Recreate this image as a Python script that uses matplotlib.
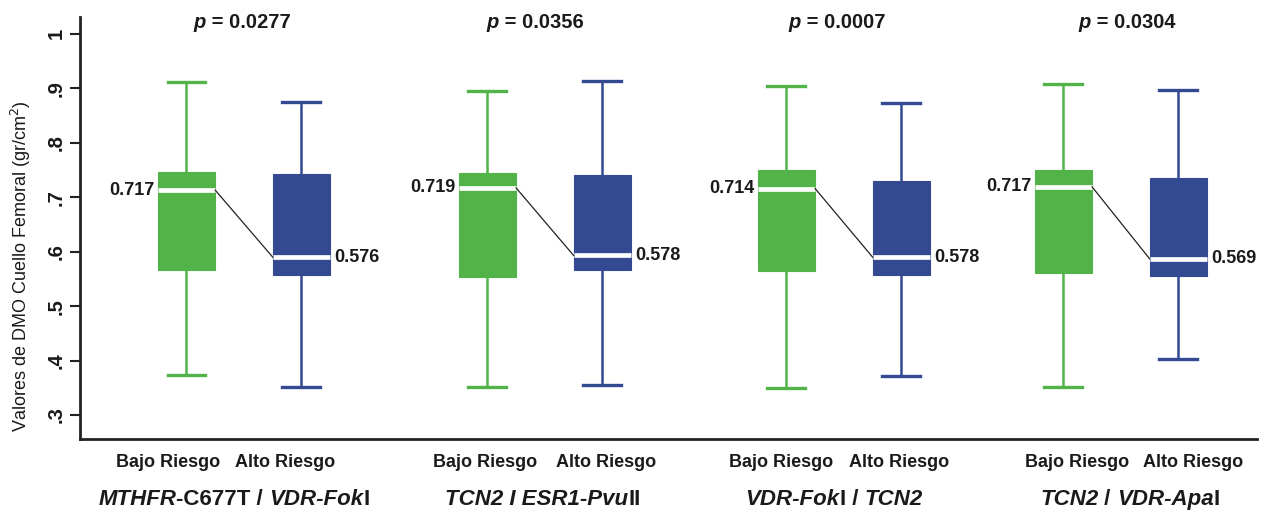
import matplotlib
matplotlib.use("Agg")
import matplotlib.pyplot as plt
from matplotlib.offsetbox import TextArea, HPacker, AnnotationBbox

plt.rcParams['font.family'] = ['Liberation Sans', 'DejaVu Sans']

# ---------------- data ----------------
groups = ["MTHFR-C677T / VDR-FokI", "TCN2 I ESR1-PvuII", "VDR-FokI / TCN2", "TCN2 / VDR-ApaI"]
categories = ["Bajo Riesgo", "Alto Riesgo"]
p_values = ["0.0277", "0.0356", "0.0007", "0.0304"]

# Bajo Riesgo
bajo_whislo = [0.373, 0.351, 0.350, 0.351]
bajo_q1 = [0.566, 0.554, 0.565, 0.561]
bajo_med = [0.713, 0.717, 0.716, 0.719]
bajo_q3 = [0.746, 0.745, 0.750, 0.750]
bajo_whishi = [0.911, 0.895, 0.904, 0.908]
bajo_labels = ["0.717", "0.719", "0.714", "0.717"]

# Alto Riesgo
alto_whislo = [0.351, 0.356, 0.372, 0.403]
alto_q1 = [0.557, 0.566, 0.557, 0.555]
alto_med = [0.590, 0.593, 0.590, 0.587]
alto_q3 = [0.742, 0.740, 0.730, 0.735]
alto_whishi = [0.874, 0.913, 0.873, 0.897]
alto_labels = ["0.576", "0.578", "0.578", "0.569"]

yticks = [0.3, 0.4, 0.5, 0.6, 0.7, 0.8, 0.9, 1.0]
ytick_labels = [".3", ".4", ".5", ".6", ".7", ".8", ".9", "1"]

# ---------------- layout / style ----------------
GREEN = "#52B448"
BLUE = "#334A93"
group_start = [0.0, 2.617, 5.217, 7.626]      # x of each group's first box (axis units)
box_w = 0.5
PX = 1 / 115.0                                  # one pixel in x axis units
cat_off = [(-18, -16), (-2, 4), (-5, -2), (14, 15)]   # category label offsets (px)
grp_off = [-10, -2, -10, 9]                      # group label offsets (px)
p_off = [-2, -10, -7, 6]                         # p-value offsets (px)

fig = plt.figure(figsize=(12.76, 5.15), dpi=100)
W, H = 1276, 515
left, right, top, bottom = 80, 1257, 17, 439
ax = fig.add_axes([left / W, 1 - bottom / H, (right - left) / W, (bottom - top) / H])

pos_bajo = [s for s in group_start]
pos_alto = [s + 1 for s in group_start]

def stats(lo, q1, med, q3, hi):
    return [dict(whislo=a, q1=b, med=c, q3=d, whishi=e, fliers=[])
            for a, b, c, d, e in zip(lo, q1, med, q3, hi)]

for st, pos, col in [
    (stats(bajo_whislo, bajo_q1, bajo_med, bajo_q3, bajo_whishi), pos_bajo, GREEN),
    (stats(alto_whislo, alto_q1, alto_med, alto_q3, alto_whishi), pos_alto, BLUE),
]:
    ax.bxp(st, positions=pos, widths=box_w, patch_artist=True, showfliers=False,
           capwidths=0.33,
           boxprops=dict(facecolor=col, edgecolor=col, linewidth=0.8),
           medianprops=dict(color="white", linewidth=3.4, solid_capstyle="butt"),
           whiskerprops=dict(color=col, linewidth=1.8),
           capprops=dict(color=col, linewidth=2.4),
           manage_ticks=False, zorder=2)

for g in range(len(groups)):
    xb, xa = pos_bajo[g], pos_alto[g]
    ax.plot([xb + box_w / 2, xa - box_w / 2], [bajo_med[g], alto_med[g]],
            color="#222222", linewidth=0.9, zorder=3)
    ax.annotate(bajo_labels[g], (xb - box_w / 2, bajo_med[g]), xytext=(-2, 0),
                textcoords="offset points", ha="right", va="center",
                fontsize=13, fontweight="bold", color="#1a1a1a")
    ax.annotate(alto_labels[g], (xa + box_w / 2, alto_med[g]), xytext=(3, 0),
                textcoords="offset points", ha="left", va="center",
                fontsize=13, fontweight="bold", color="#1a1a1a", annotation_clip=False)
    # p-value
    tp = TextArea("p", textprops=dict(fontsize=14.5, fontweight="bold", fontstyle="italic", color="#1a1a1a"))
    tv = TextArea(" = " + p_values[g], textprops=dict(fontsize=14.5, fontweight="bold", color="#1a1a1a"))
    pack = HPacker(children=[tp, tv], pad=0, sep=0, align="baseline")
    ab = AnnotationBbox(pack, ((xb + xa) / 2 + p_off[g] * PX, 1.0),
                        xycoords=("data", "axes fraction"),
                        box_alignment=(0.5, 0.5), frameon=False, annotation_clip=False,
                        xybox=(0, -4), boxcoords="offset points")
    ax.add_artist(ab)

# group labels (italic bold with non-italic parts)
group_parts = [
    [("MTHFR", True), ("-C677T / ", False), ("VDR-Fok", True), ("I", False)],
    [("TCN2 I ESR1-Pvu", True), ("II", False)],
    [("VDR-Fok", True), ("I / ", False), ("TCN2", True)],
    [("TCN2", True), (" / ", False), ("VDR-Apa", True), ("I", False)],
]
for g, parts in enumerate(group_parts):
    children = [TextArea(t, textprops=dict(fontsize=16, fontweight="bold",
                                            fontstyle="italic" if it else "normal",
                                            color="#1a1a1a"))
                for t, it in parts]
    pack = HPacker(children=children, pad=0, sep=0, align="baseline")
    ab = AnnotationBbox(pack, ((pos_bajo[g] + pos_alto[g]) / 2 + grp_off[g] * PX, -0.143),
                        xycoords=("data", "axes fraction"), box_alignment=(0.5, 0.5),
                        frameon=False, annotation_clip=False)
    ax.add_artist(ab)

# x category labels
tick_pos = []
tick_lab = []
for g in range(len(groups)):
    tick_pos += [pos_bajo[g] + cat_off[g][0] * PX, pos_alto[g] + cat_off[g][1] * PX]
    tick_lab += categories
ax.set_xticks(tick_pos)
ax.set_xticklabels(tick_lab, fontsize=13, fontweight="bold", color="#1a1a1a")
ax.tick_params(axis="x", length=0, pad=11)

# y axis
ax.set_ylim(0.256, 1.031)
ax.set_xlim(-0.926, 9.31)
ax.set_yticks(yticks)
ax.set_yticklabels(ytick_labels, rotation=90, va="center", fontsize=14.5,
                   fontweight="bold", color="#1a1a1a")
ax.tick_params(axis="y", length=7, width=1.5, pad=3, color="#222222")
ax.set_ylabel("Valores de DMO Cuello Femoral (gr/cm$^2$)", fontsize=13, color="#1a1a1a")
ax.yaxis.set_label_coords(-0.040, 0.41)

for s in ["top", "right"]:
    ax.spines[s].set_visible(False)
for s in ["left", "bottom"]:
    ax.spines[s].set_linewidth(2)
    ax.spines[s].set_color("#222222")

fig.savefig("out.png", dpi=100)
